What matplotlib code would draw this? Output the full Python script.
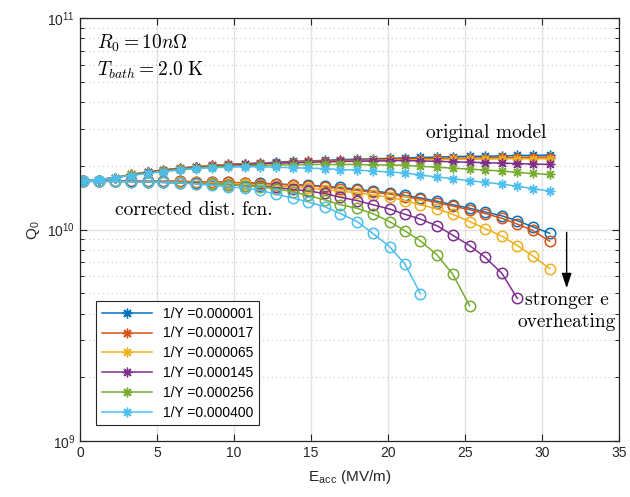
import matplotlib

matplotlib.use("Agg")
import matplotlib.pyplot as plt
from matplotlib.ticker import LogLocator, NullFormatter

plt.rcParams["font.family"] = ["Liberation Sans", "DejaVu Sans"]
plt.rcParams["mathtext.fontset"] = "cm"

# accelerating field (MV/m)
E_ACC = [0.2, 1.25, 2.3, 3.3, 4.4, 5.4, 6.5, 7.5, 8.6, 9.6,
         10.7, 11.7, 12.7, 13.8, 14.8, 15.9, 16.9, 18.0, 19.0, 20.1,
         21.1, 22.1, 23.2, 24.2, 25.3, 26.3, 27.4, 28.4, 29.4, 30.5]

LABELS = ["1/Y =0.000001", "1/Y =0.000017", "1/Y =0.000065",
          "1/Y =0.000145", "1/Y =0.000256", "1/Y =0.000400"]
COLORS = ["#0072BD", "#D95319", "#EDB120", "#7E2F8E", "#77AC30", "#4DBEEE"]

# original model, Q0 in units of 1e10
Q_ORIG_1 = [1.70, 1.72, 1.76, 1.82, 1.87, 1.91, 1.95, 1.98, 2.01, 2.03, 2.05, 2.06, 2.08, 2.10, 2.11,
            2.12, 2.14, 2.15, 2.16, 2.17, 2.18, 2.19, 2.20, 2.21, 2.22, 2.22, 2.23, 2.24, 2.24, 2.25]
Q_ORIG_2 = [1.70, 1.72, 1.76, 1.82, 1.87, 1.91, 1.95, 1.98, 2.01, 2.03, 2.04, 2.06, 2.07, 2.09, 2.10,
            2.11, 2.12, 2.13, 2.14, 2.15, 2.16, 2.16, 2.17, 2.17, 2.18, 2.18, 2.19, 2.19, 2.20, 2.20]
Q_ORIG_3 = [1.70, 1.72, 1.76, 1.82, 1.86, 1.90, 1.94, 1.97, 2.00, 2.02, 2.03, 2.05, 2.06, 2.07, 2.08,
            2.09, 2.10, 2.11, 2.12, 2.12, 2.13, 2.14, 2.14, 2.15, 2.15, 2.15, 2.16, 2.16, 2.16, 2.16]
Q_ORIG_4 = [1.70, 1.72, 1.76, 1.81, 1.86, 1.90, 1.94, 1.97, 1.99, 2.01, 2.03, 2.05, 2.06, 2.07, 2.08,
            2.09, 2.10, 2.10, 2.11, 2.11, 2.12, 2.11, 2.10, 2.09, 2.08, 2.07, 2.06, 2.05, 2.04, 2.03]
Q_ORIG_5 = [1.70, 1.72, 1.76, 1.81, 1.85, 1.89, 1.93, 1.96, 1.98, 1.99, 2.00, 2.01, 2.02, 2.02, 2.03,
            2.03, 2.03, 2.03, 2.02, 2.02, 2.01, 1.99, 1.97, 1.95, 1.93, 1.91, 1.89, 1.86, 1.84, 1.82]
Q_ORIG_6 = [1.70, 1.72, 1.76, 1.80, 1.84, 1.88, 1.91, 1.94, 1.96, 1.97, 1.98, 1.98, 1.97, 1.96, 1.95,
            1.94, 1.92, 1.91, 1.89, 1.87, 1.85, 1.81, 1.77, 1.74, 1.70, 1.67, 1.64, 1.60, 1.56, 1.52]

# corrected distribution function, Q0 in units of 1e10
Q_CORR_1 = [1.70, 1.70, 1.70, 1.69, 1.69, 1.69, 1.69, 1.68, 1.68, 1.67, 1.66, 1.66, 1.64, 1.63, 1.62,
            1.60, 1.58, 1.55, 1.52, 1.49, 1.45, 1.41, 1.36, 1.31, 1.26, 1.21, 1.16, 1.10, 1.03, 0.96]
Q_CORR_2 = [1.70, 1.70, 1.70, 1.69, 1.69, 1.69, 1.69, 1.68, 1.68, 1.67, 1.66, 1.65, 1.64, 1.62, 1.61,
            1.59, 1.56, 1.53, 1.50, 1.47, 1.43, 1.39, 1.34, 1.29, 1.24, 1.19, 1.13, 1.06, 0.99, 0.88]
Q_CORR_3 = [1.69, 1.69, 1.69, 1.69, 1.68, 1.68, 1.67, 1.67, 1.66, 1.65, 1.64, 1.62, 1.61, 1.59, 1.57,
            1.54, 1.52, 1.49, 1.46, 1.42, 1.37, 1.31, 1.25, 1.18, 1.09, 1.01, 0.93, 0.84, 0.75, 0.653]
Q_CORR_4 = [1.69, 1.69, 1.69, 1.69, 1.68, 1.67, 1.66, 1.66, 1.64, 1.63, 1.61, 1.60, 1.58, 1.55, 1.52,
            1.48, 1.42, 1.37, 1.31, 1.25, 1.18, 1.12, 1.04, 0.94, 0.84, 0.74, 0.62, 0.472]
Q_CORR_5 = [1.69, 1.69, 1.69, 1.68, 1.68, 1.67, 1.66, 1.65, 1.64, 1.63, 1.61, 1.59, 1.56, 1.51, 1.45,
            1.38, 1.31, 1.26, 1.19, 1.09, 0.985, 0.884, 0.756, 0.615, 0.436]
Q_CORR_6 = [1.69, 1.69, 1.69, 1.68, 1.68, 1.67, 1.66, 1.64, 1.62, 1.59, 1.57, 1.53, 1.47, 1.41, 1.35,
            1.28, 1.19, 1.09, 0.96, 0.83, 0.686, 0.498]

Q_ORIG = [Q_ORIG_1, Q_ORIG_2, Q_ORIG_3, Q_ORIG_4, Q_ORIG_5, Q_ORIG_6]
Q_CORR = [Q_CORR_1, Q_CORR_2, Q_CORR_3, Q_CORR_4, Q_CORR_5, Q_CORR_6]

AXIS_COLOR = "#262626"
TEXT_KW = dict(fontsize=14, fontfamily="cmr10", math_fontfamily="cm")

fig = plt.figure(figsize=(6.3, 4.97), dpi=100)
ax = fig.add_axes([80 / 630, 56 / 497, 539 / 630, 423 / 497])

star = (8, 2, 0)
handles = []
for q_orig, q_corr, color, label in zip(Q_ORIG, Q_CORR, COLORS, LABELS):
    (h,) = ax.plot(E_ACC[:len(q_orig)], [q * 1e10 for q in q_orig], color=color,
                   linewidth=1.1, marker=star, markersize=7, markeredgewidth=1.0,
                   label=label)
    ax.plot(E_ACC[:len(q_corr)], [q * 1e10 for q in q_corr], color=color,
            linewidth=1.1, marker="o", markersize=7.5, markerfacecolor="none",
            markeredgewidth=1.1)
    handles.append(h)

ax.set_yscale("log")
ax.set_xlim(0, 35)
ax.set_ylim(1e9, 1e11)
ax.set_xticks(range(0, 36, 5))
ax.yaxis.set_major_locator(LogLocator(base=10, numticks=5))
ax.yaxis.set_minor_locator(LogLocator(base=10, subs=range(2, 10), numticks=20))
ax.yaxis.set_minor_formatter(NullFormatter())

ax.grid(True, which="major", color="#e3e3e3", linewidth=1.0, linestyle="-")
ax.grid(True, which="minor", axis="y", color="#c8c8c8", linewidth=0.8, linestyle=(0, (1, 3)))
ax.set_axisbelow(True)

ax.tick_params(which="both", direction="in", top=True, right=True, colors=AXIS_COLOR,
               labelcolor="#262626", labelsize=10)
ax.tick_params(which="major", length=5, width=0.8)
ax.tick_params(which="minor", length=3, width=0.7)
for spine in ax.spines.values():
    spine.set_color(AXIS_COLOR)
    spine.set_linewidth(0.9)

ax.set_xlabel(r"E$_{\mathregular{acc}}$ (MV/m)", fontsize=11, color="#262626", labelpad=6)
ax.set_ylabel(r"Q$_{\mathregular{0}}$", fontsize=11, color="#262626")

ax.text(0.0315, 0.94, r"$R_0 = 10n\Omega$", transform=ax.transAxes, va="center", **TEXT_KW)
ax.text(0.0315, 0.876, r"$T_{bath} = 2.0\ \mathrm{K}$", transform=ax.transAxes, va="center", **TEXT_KW)
ax.text(22.5, 2.85e10, "original model", ha="left", va="center", **TEXT_KW)
ax.text(2.27, 1.23e10, "corrected dist. fcn.", ha="left", va="center", **TEXT_KW)
ax.text(31.6, 4.64e9, "stronger e", ha="center", va="center", **TEXT_KW)
ax.text(31.6, 3.65e9, "overheating", ha="center", va="center", **TEXT_KW)
ax.annotate("", xy=(31.6, 5.28e9), xytext=(31.6, 9.7e9),
            arrowprops=dict(arrowstyle="-|>,head_length=0.9,head_width=0.3",
                            color="black", lw=1.0, shrinkA=0, shrinkB=0))

leg = ax.legend(handles=handles, loc="lower left", bbox_to_anchor=(0.03, 0.037),
                borderaxespad=0, fontsize=10, handlelength=3.6, labelspacing=0.42,
                fancybox=False, framealpha=1, edgecolor=AXIS_COLOR, borderpad=0.4)
leg.get_frame().set_linewidth(0.8)

fig.savefig("out.png", dpi=100)
